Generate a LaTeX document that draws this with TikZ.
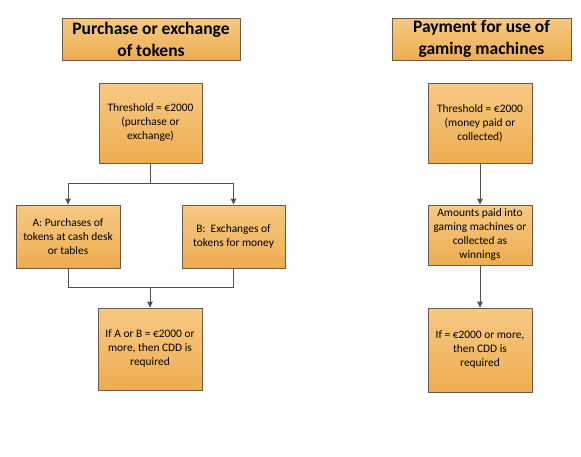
\documentclass[tikz,border=0pt]{standalone}
\usepackage{fontspec}
\setmainfont{Carlito}
\usetikzlibrary{arrows.meta,shadows}
\definecolor{boxtop}{HTML}{F6C983}
\definecolor{boxbot}{HTML}{EEAD50}
\definecolor{boxline}{HTML}{6E5A48}
\definecolor{arrowc}{HTML}{5A4E48}
\begin{document}
\begin{tikzpicture}[x=1pt,y=-1pt,
  box/.style={draw=boxline,line width=0.8pt,top color=boxtop,bottom color=boxbot,
    align=center,inner sep=1pt,drop shadow={shadow xshift=1.2pt,shadow yshift=-1.2pt,opacity=0.35,fill=black!60}},
  bodybox/.style={box,font=\fontsize{11.4}{14}\selectfont},
  titlebox/.style={box,font=\bfseries\fontsize{17.5}{22}\selectfont},
  conn/.style={draw=arrowc,line width=0.8pt},
  arr/.style={conn,-{Triangle[length=6pt,width=5.5pt]}}]
\useasboundingbox (0,0) rectangle (581,456);
% left column
\node[titlebox,minimum width=178pt,minimum height=42pt] (t1) at (151,39) {Purchase or exchange\\of tokens};
\node[titlebox,minimum width=179pt,minimum height=42pt] (t2) at (481.5,39) {Payment for use of\\gaming machines};
\node[bodybox,minimum width=103pt,minimum height=80pt] (th1) at (150.5,123) {Threshold = €2000\\(purchase or\\exchange)};
\node[bodybox,minimum width=104pt,minimum height=63pt] (a) at (68,236.5) {A: Purchases of\\tokens at cash desk\\or tables};
\node[bodybox,minimum width=103pt,minimum height=63pt] (b) at (233.5,236.5) {B:\ \ Exchanges of\\tokens for money};
\node[bodybox,minimum width=104pt,minimum height=82pt] (c) at (150,349) {If A or B = €2000 or\\more, then CDD is\\required};
\coordinate (s1) at (150.5,183);
\coordinate (j1) at (150,287);
\draw[conn] (th1.south) -- (s1);
\draw[arr] (s1) -| (a.north);
\draw[arr] (s1) -| (b.north);
\draw[conn] (a.south) |- (j1);
\draw[conn] (b.south) |- (j1);
\draw[arr] (j1) -- (c.north);
% right column
\node[bodybox,minimum width=104pt,minimum height=80pt] (th2) at (480,123) {Threshold = €2000\\(money paid or\\collected)};
\node[bodybox,minimum width=104pt,minimum height=60pt] (m) at (480,235) {Amounts paid into\\gaming machines or\\collected as\\winnings};
\node[bodybox,minimum width=104pt,minimum height=84pt] (r) at (480,350) {If = €2000 or more,\\then CDD is\\required};
\draw[arr] (th2.south) -- (m.north);
\draw[arr] (m.south) -- (r.north);
\end{tikzpicture}
\end{document}
